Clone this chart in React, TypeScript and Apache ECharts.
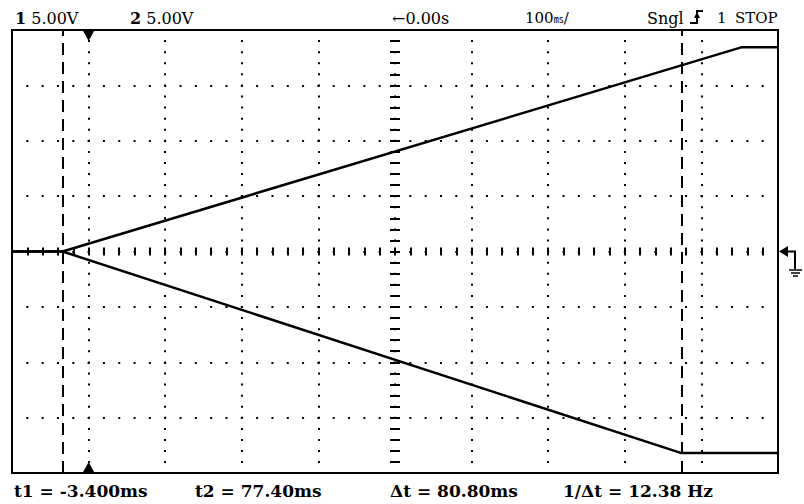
import { useEffect, useRef } from "react";
import * as echarts from "echarts";

// Time axis (ms) and voltage axis (V)
const timeMin = -10;
const timeMax = 90;
const timeDiv = 10;
const voltMin = -20;
const voltMax = 20;
const voltDiv = 5;

// Traces [time ms, volts]
const ch1Trace: number[][] = [
  [-10, 0],
  [-3.4, 0],
  [85.3, 18.45],
  [90, 18.45],
];
const ch2Trace: number[][] = [
  [-10, 0],
  [-3.4, 0],
  [77.4, -18.2],
  [90, -18.2],
];

// Cursors and trigger
const cursorTimes = [-3.4, 77.4];
const triggerTime = 0;

// Labels
const ch1Scale = "5.00V";
const ch2Scale = "5.00V";
const delayLabel = "←0.00s";
const timebaseValue = "100";
const timebaseUnit = "㎳";
const modeLabels = ["Sngl", "1", "STOP"];
const measureLabels = [
  "t1 = -3.400ms",
  "t2 = 77.40ms",
  "Δt = 80.80ms",
  "1/Δt = 12.38 Hz",
];

const FONT = '"DejaVu Serif", serif';

export default function App() {
  const ref = useRef<HTMLDivElement>(null);

  useEffect(() => {
    if (!ref.current) return;
    const chart = echarts.init(ref.current, undefined, { renderer: "svg" });

    const black = "#000";
    const tickAxisX = (position: string) => ({
      type: "value",
      min: timeMin,
      max: timeMax,
      interval: timeDiv,
      position,
      axisLine: { show: true, onZero: true, onZeroAxisIndex: 0, lineStyle: { opacity: 0 } },
      axisTick: { show: true, length: 4, inside: false, lineStyle: { color: black, width: 2 } },
      minorTick: { show: true, splitNumber: 5, length: 4, lineStyle: { color: black, width: 2 } },
      axisLabel: { show: false },
      splitLine: { show: false },
    });
    const tickAxisY = (position: string) => ({
      type: "value",
      min: voltMin,
      max: voltMax,
      interval: voltDiv,
      position,
      offset: -383,
      axisLine: { show: false, onZero: false },
      axisTick: { show: true, length: 5, inside: false, lineStyle: { color: black, width: 2 } },
      minorTick: { show: true, splitNumber: 5, length: 5, lineStyle: { color: black, width: 2 } },
      axisLabel: { show: false },
      splitLine: { show: false },
    });

    const txt = (x: number, y: number, text: string, size: number, weight = "normal", extra: any = {}) => ({
      type: "text",
      x,
      y,
      silent: true,
      style: {
        text,
        fill: black,
        fontFamily: FONT,
        fontSize: size,
        fontWeight: weight,
        verticalAlign: "middle",
        align: "left",
        ...extra,
      },
    });

    const boldRich = { b: { fontWeight: "bold", fontFamily: FONT, fontSize: 16, fill: black } };

    const option: any = {
      animation: false,
      backgroundColor: "#fff",
      grid: {
        left: 12,
        top: 30,
        width: 766,
        height: 443,
        show: true,
        borderColor: black,
        borderWidth: 2,
        backgroundColor: "transparent",
        outerBoundsMode: "none",
      },
      xAxis: [
        {
          type: "value",
          min: timeMin,
          max: timeMax,
          interval: timeDiv,
          axisLine: { show: false, onZero: false },
          axisTick: { show: false },
          axisLabel: { show: false },
          splitLine: {
            show: true,
            lineStyle: { color: black, width: 2, type: [2, 9.08], dashOffset: 1 },
          },
        },
        tickAxisX("bottom"),
        tickAxisX("top"),
      ],
      yAxis: [
        {
          type: "value",
          min: voltMin,
          max: voltMax,
          interval: voltDiv,
          axisLine: { show: false, onZero: false },
          axisTick: { show: false },
          axisLabel: { show: false },
          splitLine: {
            show: true,
            lineStyle: { color: black, width: 2, type: [2, 13.32], dashOffset: 1 },
          },
        },
        tickAxisY("left"),
        tickAxisY("right"),
      ],
      series: [
        {
          type: "line",
          data: ch1Trace,
          showSymbol: false,
          symbol: "none",
          lineStyle: { color: black, width: 2.5 },
          silent: true,
          markLine: {
            silent: true,
            symbol: ["none", "none"],
            label: { show: false },
            lineStyle: { color: black, width: 2, type: [12, 7] },
            data: cursorTimes.map((t) => ({ xAxis: t })),
          },
        },
        {
          type: "line",
          data: ch2Trace,
          showSymbol: false,
          symbol: "none",
          lineStyle: { color: black, width: 2.5 },
          silent: true,
        },
        {
          type: "scatter",
          data: [[triggerTime, voltMax]],
          symbol: "triangle",
          symbolRotate: 180,
          symbolSize: [11, 10],
          symbolOffset: [0, 6],
          itemStyle: { color: black, opacity: 1 },
          silent: true,
          clip: false,
        },
        {
          type: "scatter",
          data: [[triggerTime, voltMin]],
          symbol: "triangle",
          symbolSize: [11, 10],
          symbolOffset: [0, -6],
          itemStyle: { color: black, opacity: 1 },
          silent: true,
          clip: false,
        },
      ],
      graphic: [
        // top status line
        txt(15, 18, `{b|1} ${ch1Scale}`, 16, "normal", { rich: boldRich }),
        txt(130, 18, `{b|2} ${ch2Scale}`, 16, "normal", { rich: boldRich }),
        txt(392, 18, delayLabel, 16),
        txt(525, 18, `${timebaseValue}{u|${timebaseUnit}}/`, 15, "normal", {
          rich: {
            u: { fontFamily: '"Noto Sans CJK JP"', fontSize: 10, fill: black },
          },
        }),
        txt(647, 18, modeLabels[0], 16),
        {
          type: "polyline",
          silent: true,
          shape: { points: [[690, 23], [697, 23], [697, 11], [703, 11]] },
          style: { stroke: black, lineWidth: 2, fill: "none" },
        },
        {
          type: "polygon",
          silent: true,
          shape: { points: [[697, 12], [694, 18], [700, 18]] },
          style: { fill: black },
        },
        txt(717, 18, modeLabels[1], 15),
        txt(735, 18, modeLabels[2], 15),
        // bottom measurement line
        txt(14, 491, measureLabels[0], 17, "bold"),
        txt(195, 491, measureLabels[1], 17, "bold"),
        txt(390, 491, measureLabels[2], 17, "bold"),
        txt(563, 491, measureLabels[3], 17, "bold"),
        // ground reference marker
        {
          type: "polygon",
          silent: true,
          shape: { points: [[779, 251.5], [788, 246], [788, 257]] },
          style: { fill: black },
        },
        {
          type: "polyline",
          silent: true,
          shape: { points: [[787, 251.5], [795, 251.5], [795, 269]] },
          style: { stroke: black, lineWidth: 2, fill: "none" },
        },
        {
          type: "line",
          silent: true,
          shape: { x1: 789, y1: 270, x2: 802, y2: 270 },
          style: { stroke: black, lineWidth: 1.5 },
        },
        {
          type: "line",
          silent: true,
          shape: { x1: 791, y1: 273, x2: 800, y2: 273 },
          style: { stroke: black, lineWidth: 1.5 },
        },
        {
          type: "line",
          silent: true,
          shape: { x1: 793, y1: 276, x2: 798, y2: 276 },
          style: { stroke: black, lineWidth: 1.5 },
        },
      ],
    };

    chart.setOption(option);
    return () => chart.dispose();
  }, []);

  return (
    <div
      ref={ref}
      style={{ position: "absolute", left: 0, top: 0, width: 804, height: 504, background: "#fff" }}
    />
  );
}
